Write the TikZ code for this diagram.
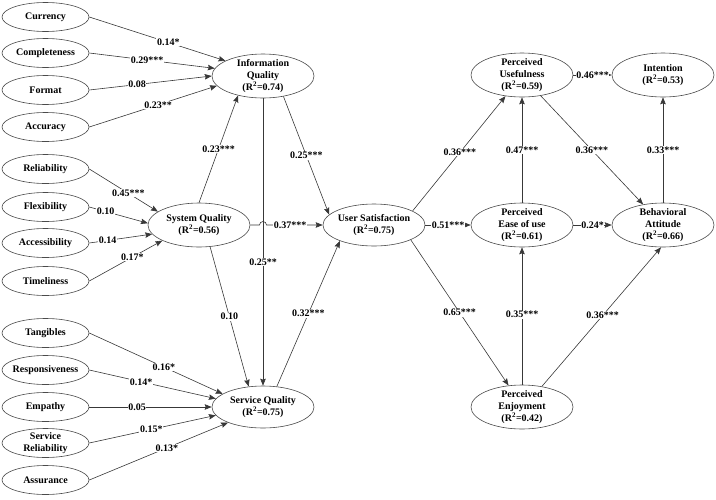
\documentclass[tikz,border=0pt]{standalone}
\usepackage{fontspec}
\setmainfont{Liberation Serif}
\usetikzlibrary{shapes.geometric,arrows.meta}
\definecolor{lin}{HTML}{383838}
\definecolor{ell}{HTML}{4A4A4A}
\begin{document}
\begin{tikzpicture}[x=1pt,y=-1pt,
  small/.style={ellipse,draw=ell,fill=white,line width=0.6pt,minimum width=87pt,minimum height=29pt,
    inner xsep=-20pt,inner ysep=-10pt,font=\fontsize{10}{12}\selectfont\bfseries,align=center},
  big/.style={small,minimum width=102pt,minimum height=44pt},
  arr/.style={draw=lin,line width=0.6pt,-{Stealth[length=7pt,width=5.5pt,inset=1pt]}},
  lab/.style={fill=white,inner sep=0.6pt,font=\fontsize{10}{12}\selectfont\bfseries,text=black}]
\useasboundingbox (0,0) rectangle (716,499);
% left small constructs
\node[small] (cur) at (45.5,17) {Currency};
\node[small] (com) at (45.5,53) {Completeness};
\node[small] (for) at (45.5,90) {Format};
\node[small] (acc) at (45.5,127) {Accuracy};
\node[small] (rel) at (45.5,169) {Reliability};
\node[small] (fle) at (45.5,207) {Flexibility};
\node[small] (acs) at (45.5,243) {Accessibility};
\node[small] (tim) at (45.5,281) {Timeliness};
\node[small] (tan) at (45.5,333) {Tangibles};
\node[small] (res) at (45.5,370) {Responsiveness};
\node[small] (emp) at (45.5,407) {Empathy};
\node[small] (srl) at (45.5,443) {Service\\Reliability};
\node[small] (asr) at (45.5,480) {Assurance};
% main constructs
\node[big] (iq) at (263,76) {Information\\Quality\\(R\textsuperscript{2}=0.74)};
\node[big] (sysq) at (199,225) {System Quality\\(R\textsuperscript{2}=0.56)};
\node[big,minimum height=42pt] (servq) at (263,407) {Service Quality\\(R\textsuperscript{2}=0.75)};
\node[big,minimum height=42pt] (us) at (374,225) {User Satisfaction\\(R\textsuperscript{2}=0.75)};
\node[big] (pu) at (522,75) {Perceived\\Usefulness\\(R\textsuperscript{2}=0.59)};
\node[big] (int) at (663,75) {Intention\\(R\textsuperscript{2}=0.53)};
\node[big] (peou) at (522,225) {Perceived\\Ease of use\\(R\textsuperscript{2}=0.61)};
\node[big] (ba) at (663,225) {Behavioral\\Attitude\\(R\textsuperscript{2}=0.66)};
\node[big] (pe) at (522,407) {Perceived\\Enjoyment\\(R\textsuperscript{2}=0.42)};
% information quality
\draw[arr] (cur.east) -- node[lab,pos=0.58]{0.14*} (iq.158);
\draw[arr] (com.east) -- node[lab,pos=0.46]{0.29***} (iq.171);
\draw[arr] (for.east) -- node[lab,pos=0.39]{0.08} (iq.west);
\draw[arr] (acc.east) -- node[lab,pos=0.54]{0.23**} (iq.192);
% system quality
\draw[arr] (rel.east) -- node[lab,pos=0.57]{0.45***} (sysq.162);
\draw[arr] (fle.east) -- node[lab,pos=0.28]{0.10} (sysq.178);
\draw[arr] (acs.east) -- node[lab,pos=0.29]{0.14} (sysq.191);
\draw[arr] (tim.east) -- node[lab,pos=0.59]{0.17*} (sysq.203);
% service quality
\draw[arr] (tan.east) -- node[lab,pos=0.56]{0.16*} (servq.162);
\draw[arr] (res.east) -- node[lab,pos=0.41]{0.14*} (servq.170);
\draw[arr] (emp.east) -- node[lab,pos=0.39]{0.05} (servq.west);
\draw[arr] (srl.east) -- node[lab,pos=0.49]{0.15*} (servq.190);
\draw[arr] (asr.east) -- node[lab,pos=0.56]{0.13*} (servq.204);
% between main constructs
\draw[arr] (sysq.north) -- node[lab,pos=0.5]{0.23***} (iq.218);
\draw[arr] (iq.315) -- node[lab,pos=0.5]{0.25***} (us.167);
\draw[arr] (iq.south) -- node[lab,pos=0.57]{0.25**} (servq.north);
\draw[arr] (sysq.297) -- node[lab,pos=0.5]{0.10} (servq.125);
\draw[arr] (servq.56) -- node[lab,pos=0.5]{0.32***} (us.205);
\coordinate (hop) at (259.5,225);
\draw[arr] (sysq.east) -- (hop) arc[start angle=180,end angle=0,radius=3.5pt] -- node[lab,pos=0.42]{0.37***} (us.west);
% right part
\draw[arr] (us.20) -- node[lab,pos=0.51]{0.36***} (pu.232);
\draw[arr] (us.east) -- node[lab,pos=0.5]{0.51***} (peou.west);
\draw[arr] (us.338) -- node[lab,pos=0.5]{0.65***} (pe.122);
\draw[arr] (peou.north) -- node[lab,pos=0.5]{0.47***} (pu.south);
\draw[arr] (pu.312) -- node[lab,pos=0.5]{0.36***} (ba.134);
\draw[arr] (pu.east) -- node[lab,pos=0.5]{0.46***} (int.west);
\draw[arr] (peou.east) -- node[lab,pos=0.5]{0.24*} (ba.west);
\draw[arr] (ba.north) -- node[lab,pos=0.5]{0.33***} (int.south);
\draw[arr] (pe.north) -- node[lab,pos=0.51]{0.35***} (peou.south);
\draw[arr] (pe.46) -- node[lab,pos=0.51]{0.36***} (ba.265);
\end{tikzpicture}
\end{document}
